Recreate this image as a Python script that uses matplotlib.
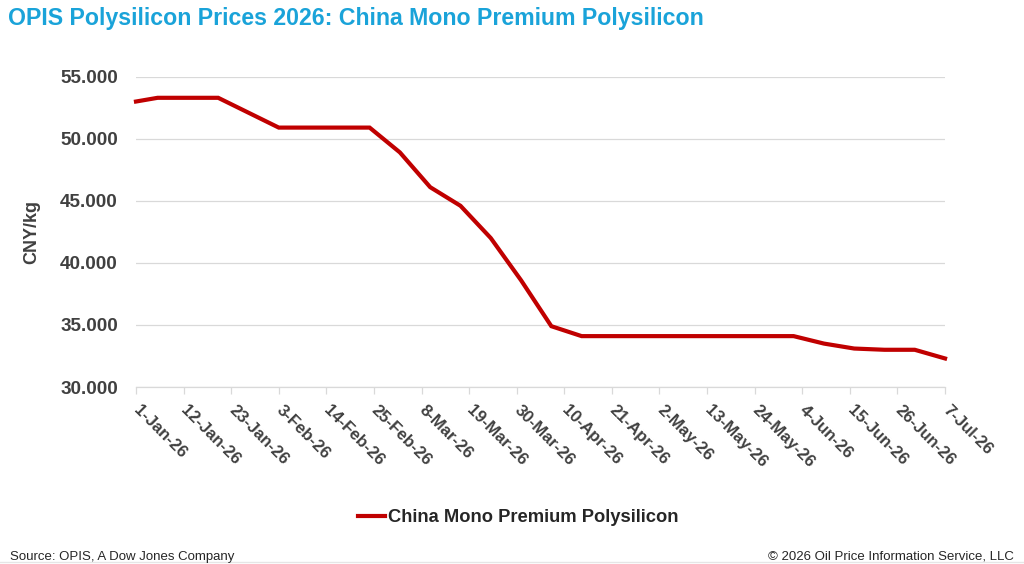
import matplotlib
matplotlib.use("Agg")
import matplotlib.pyplot as plt
import numpy as np
import pandas as pd

plt.rcParams["font.family"] = ["Liberation Sans", "DejaVu Sans"]

# weekly assessments (Tuesdays), first point at axis start
dates = ["2026-01-01", "2026-01-06", "2026-01-13", "2026-01-20", "2026-01-27",
         "2026-02-03", "2026-02-10", "2026-02-17", "2026-02-24", "2026-03-03",
         "2026-03-10", "2026-03-17", "2026-03-24", "2026-03-31", "2026-04-07",
         "2026-04-14", "2026-04-21", "2026-04-28", "2026-05-05", "2026-05-12",
         "2026-05-19", "2026-05-26", "2026-06-02", "2026-06-09", "2026-06-16",
         "2026-06-23", "2026-06-30", "2026-07-07"]
prices = [53.0, 53.3, 53.3, 53.3, 52.1,
          50.9, 50.9, 50.9, 50.9, 48.9,
          46.1, 44.6, 42.0, 38.6, 34.9,
          34.1, 34.1, 34.1, 34.1, 34.1,
          34.1, 34.1, 34.1, 33.5, 33.1,
          33.0, 33.0, 32.3]
series_name = "China Mono Premium Polysilicon"
y_ticks = [30, 35, 40, 45, 50, 55]

TEXT = "#404040"
RED = "#c00000"
BLUE = "#1aa3d9"

x = pd.to_datetime(dates)
x_start = pd.Timestamp("2026-01-01")
x_end = pd.Timestamp("2026-07-07")
x_ticks = pd.date_range(x_start, x_end, freq="11D")

fig = plt.figure(figsize=(10.24, 5.64), dpi=100)
ax = fig.add_axes([0.1328, 0.3138, 0.7901, 0.5502])

ax.plot(x, prices, color=RED, lw=3.0, solid_joinstyle="miter", label=series_name,
        clip_on=False, zorder=3)

ax.set_xlim(x_start, x_end)
ax.set_ylim(30, 55)
ax.set_yticks(y_ticks)
ax.yaxis.set_major_formatter(matplotlib.ticker.FuncFormatter(lambda v, p: f"{v:.3f}"))
ax.set_xticks(x_ticks)
ax.set_xticklabels([f"{d.day}-{d.strftime('%b')}-26" for d in x_ticks])

ax.grid(axis="y", color="#d9d9d9", lw=0.9)
ax.set_axisbelow(True)
for side in ["top", "right", "left"]:
    ax.spines[side].set_visible(False)
ax.spines["bottom"].set_color("#d9d9d9")
ax.spines["bottom"].set_linewidth(0.9)

ax.tick_params(axis="y", length=0, pad=13, labelsize=13.6, labelcolor=TEXT)
ax.tick_params(axis="x", length=5, color="#d9d9d9", width=0.9, pad=10,
               labelsize=12.1, labelcolor=TEXT)
for lab in ax.get_yticklabels():
    lab.set_fontweight("bold")
for lab in ax.get_xticklabels():
    lab.set_fontweight("bold")
    lab.set_rotation(-45)
    lab.set_ha("left")
    lab.set_va("center")
    lab.set_rotation_mode("anchor")

ax.set_ylabel("CNY/kg", fontsize=13, fontweight="bold", color=TEXT, labelpad=14)

fig.text(0.008, 0.968, "OPIS Polysilicon Prices 2026: China Mono Premium Polysilicon",
         fontsize=16.7, fontweight="bold", color=BLUE, ha="left", va="center")

leg = ax.legend(loc="center", bbox_to_anchor=(0.506, 0.082), bbox_transform=fig.transFigure,
                frameon=False, handlelength=1.45, handletextpad=0.15,
                prop={"size": 13.2, "weight": "bold"})
for t in leg.get_texts():
    t.set_color("#262626")

fig.text(0.01, 0.013, "Source: OPIS, A Dow Jones Company", fontsize=9.5, color="#262626",
         ha="left", va="center")
fig.text(0.99, 0.013, "\u00a9 2026 Oil Price Information Service, LLC", fontsize=9.5,
         color="#262626", ha="right", va="center")
fig.add_artist(plt.Line2D([0, 1], [0.003, 0.003], color="#e6e6e6", lw=1.0))

fig.savefig("out.png", dpi=100)
